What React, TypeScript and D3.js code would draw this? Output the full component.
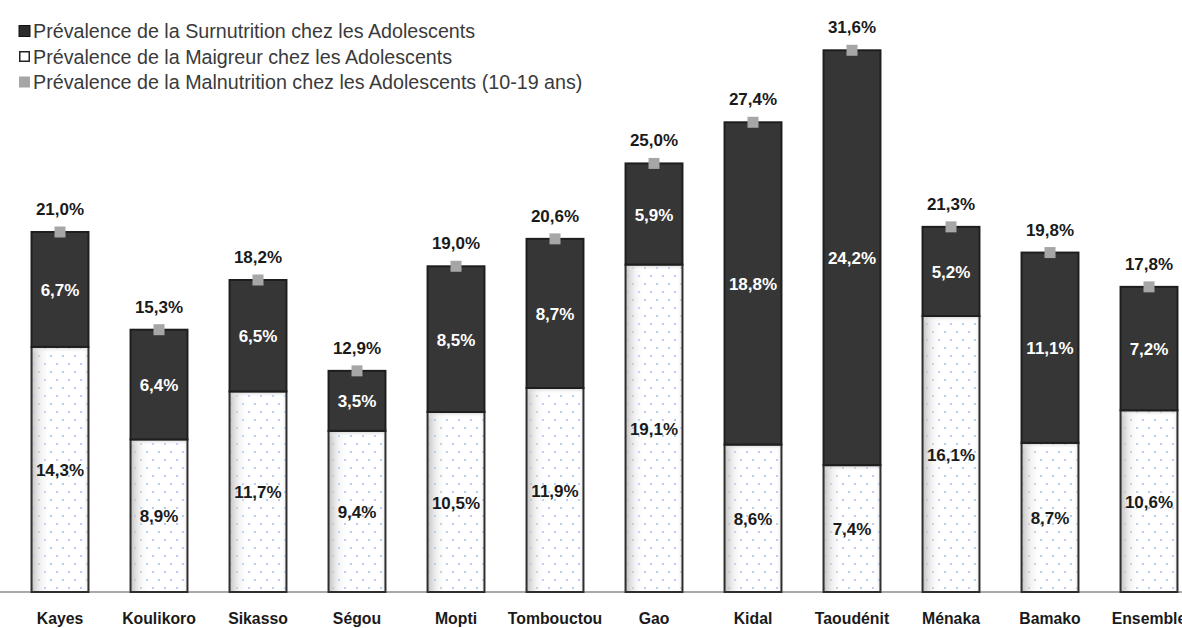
import React from "react";
import * as d3 from "d3";

const regions = ["Kayes", "Koulikoro", "Sikasso", "Ségou", "Mopti", "Tombouctou", "Gao", "Kidal", "Taoudénit", "Ménaka", "Bamako", "Ensemble"];
const maigreur = [14.3, 8.9, 11.7, 9.4, 10.5, 11.9, 19.1, 8.6, 7.4, 16.1, 8.7, 10.6];
const surnutrition = [6.7, 6.4, 6.5, 3.5, 8.5, 8.7, 5.9, 18.8, 24.2, 5.2, 11.1, 7.2];
const malnutrition = [21.0, 15.3, 18.2, 12.9, 19.0, 20.6, 25.0, 27.4, 31.6, 21.3, 19.8, 17.8];
const legendLabels = [
  "Prévalence de la Surnutrition chez les Adolescents",
  "Prévalence de la Maigreur chez les Adolescents",
  "Prévalence de la Malnutrition chez les Adolescents (10-19 ans)",
];

const W = 1182;
const H = 628;
const baseY = 592;
const FONT = "'Liberation Sans', Arial, Helvetica, sans-serif";

const fmt = (v: number) => v.toFixed(1).replace(".", ",") + "%";

export default function App() {
  const x = d3.scaleBand<string>().domain(regions).range([10.5, 1198.5]).paddingInner(0.425).paddingOuter(0.2125);
  const y = d3.scaleLinear().domain([0, 21]).range([baseY, 232]);
  const bw = x.bandwidth();

  return (
    <svg width={W} height={H} style={{ position: "absolute", left: 0, top: 0, background: "#fff" }} fontFamily={FONT}>
      <defs>
        <pattern id="dots" width="12" height="16" patternUnits="userSpaceOnUse">
          <rect width="12" height="16" fill="#ffffff" />
          <circle cx="3" cy="4" r="1" fill="#9ebaee" />
          <circle cx="9" cy="12" r="1" fill="#9ebaee" />
        </pattern>
        <linearGradient id="shadeL" x1="0" y1="0" x2="1" y2="0">
          <stop offset="0" stopColor="#b8b8b8" stopOpacity="0.9" />
          <stop offset="0.18" stopColor="#e0e0e0" stopOpacity="0.35" />
          <stop offset="0.35" stopColor="#ffffff" stopOpacity="0" />
          <stop offset="0.9" stopColor="#ffffff" stopOpacity="0" />
          <stop offset="1" stopColor="#d0d0d0" stopOpacity="0.5" />
        </linearGradient>
        <linearGradient id="shadeT" x1="0" y1="0" x2="0" y2="1">
          <stop offset="0" stopColor="#c0c0c0" stopOpacity="0.75" />
          <stop offset="1" stopColor="#ffffff" stopOpacity="0" />
        </linearGradient>
      </defs>

      {/* legend */}
      {legendLabels.map((t, i) => {
        const cy = 31 + i * 25.5;
        return (
          <g key={t}>
            {i === 0 && <rect x={19} y={cy - 5.5} width={11} height={11} fill="#2b2b2b" stroke="#111" strokeWidth={1} />}
            {i === 1 && <rect x={19.75} y={cy - 4.75} width={9.5} height={9.5} fill="#fff" stroke="#222" strokeWidth={1.5} />}
            {i === 2 && <rect x={19} y={cy - 5.5} width={11} height={11} fill="#a6a6a6" />}
            <text x={33} y={cy} dominantBaseline="central" fontSize={19.7} fill="#3a3a3a">{t}</text>
          </g>
        );
      })}

      {/* baseline */}
      <line x1={0} x2={W} y1={baseY} y2={baseY} stroke="#8c8c8c" strokeWidth={1.5} />

      {regions.map((r, i) => {
        const x0 = x(r)!;
        const cx = x0 + bw / 2;
        const yM = y(maigreur[i]);
        const yT = y(malnutrition[i]);
        return (
          <g key={r}>
            {/* maigreur segment */}
            <rect x={x0} y={yM} width={bw} height={baseY - yM} fill="url(#dots)" />
            <rect x={x0} y={yM} width={bw} height={baseY - yM} fill="url(#shadeL)" />
            <rect x={x0} y={yM} width={bw} height={6} fill="url(#shadeT)" />
            <rect x={x0} y={yM} width={bw} height={baseY - yM} fill="none" stroke="#2e2e2e" strokeWidth={2} />
            {/* surnutrition segment */}
            <rect x={x0} y={yT} width={bw} height={yM - yT} fill="#363636" stroke="#1e1e1e" strokeWidth={2} />
            {/* malnutrition marker */}
            <rect x={cx - 5.5} y={yT - 5.5} width={11} height={11} fill="#a6a6a6" />
            {/* labels */}
            <text x={cx} y={(yM + yT) / 2 + 1} textAnchor="middle" dominantBaseline="central" fontSize={17} fontWeight="bold" fill="#ffffff">{fmt(surnutrition[i])}</text>
            <text x={cx} y={(yM + baseY) / 2 + 1} textAnchor="middle" dominantBaseline="central" fontSize={17} fontWeight="bold" fill="#1a1a1a">{fmt(maigreur[i])}</text>
            <text x={cx} y={yT - 17} textAnchor="middle" fontSize={17} fontWeight="bold" fill="#1a1a1a">{fmt(malnutrition[i])}</text>
            <text x={cx} y={624} textAnchor="middle" fontSize={15.8} fontWeight="bold" fill="#1a1a1a">{r}</text>
          </g>
        );
      })}
    </svg>
  );
}
